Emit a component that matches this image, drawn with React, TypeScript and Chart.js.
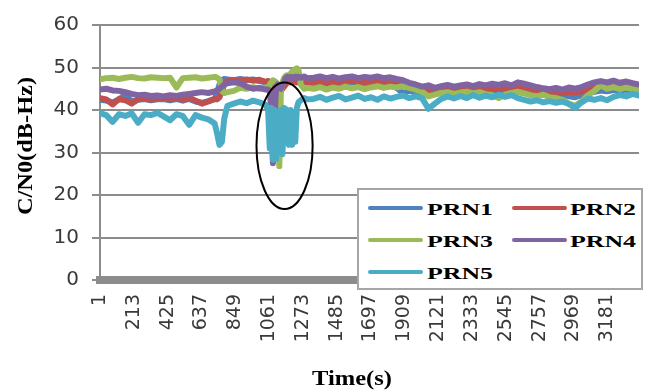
import React, { useEffect, useRef } from "react";
import { Chart, registerables } from "chart.js";

Chart.register(...registerables);

// ---- Data ----
const TIMES = [
  1, 40, 80, 120, 160, 200, 240, 280, 320, 360, 400, 440, 480, 520, 560, 600, 640, 680, 720,
  735, 750, 765, 780, 800,
  840, 880, 920, 960, 1000, 1040,
  1055, 1065, 1075, 1085, 1095, 1105, 1115, 1125, 1135, 1145, 1155, 1165, 1175, 1185, 1195, 1205, 1215, 1225, 1235, 1245, 1260, 1280, 1300,
  1340, 1380, 1420, 1460, 1500, 1540, 1580, 1620, 1660, 1700, 1740, 1780, 1820, 1860, 1900, 1940, 1980, 2020, 2060, 2100,
  2140, 2180, 2220, 2260, 2300, 2340, 2380, 2420, 2460, 2500, 2540, 2580, 2620, 2660, 2700, 2740, 2780, 2820, 2860, 2900,
  2940, 2980, 3020, 3060, 3100, 3140, 3180, 3220, 3260, 3300, 3340, 3380,
];

const PRN1 = [
  42.4, 42.2, 41.8, 42.5, 43.6, 42.0, 42.4, 42.6, 42.3, 42.5, 42.6, 42.3, 42.6, 42.2, 42.6, 42.0, 41.7, 42.1, 42.6,
  44.0, 46.0, 47.0, 47.3, 47.2,
  47.0, 47.3, 47.0, 47.2, 46.8, 46.5,
  46.8, 46.5, 46.0, 45.5, 45.0, 44.5, 45.0, 45.5, 45.8, 46.0, 46.5, 47.0, 47.3, 47.6, 47.5, 47.3, 47.0, 46.8, 46.9, 46.6, 46.5, 46.4, 46.5,
  46.2, 46.5, 46.0, 46.4, 46.1, 46.3, 46.6, 46.2, 46.4, 46.0, 46.3, 46.1, 46.0, 45.2, 44.0, 44.5, 44.2, 43.8, 43.5, 43.9,
  44.2, 44.0, 44.3, 44.1, 44.4, 44.0, 44.3, 44.1, 44.4, 44.0, 44.2, 44.5, 44.3, 44.0, 43.8, 43.6, 43.9, 43.5, 43.3, 43.6,
  43.2, 43.0, 43.5, 44.0, 44.3, 44.6, 44.4, 44.7, 44.5, 44.8, 44.4, 44.2,
];

const PRN2 = [
  42.8, 42.5, 41.3, 42.6, 42.3, 41.5, 42.5, 42.8, 42.4, 42.7, 42.9, 42.5, 42.8, 42.4, 42.9, 42.2, 41.5, 42.0, 42.6,
  42.5, 43.0, 44.5, 46.0, 46.8,
  47.0, 46.8, 47.2, 46.9, 47.1, 46.6,
  46.8, 46.5, 46.0, 45.0, 44.0, 45.0, 45.5, 45.0, 44.5, 45.0, 45.5, 46.0, 46.5, 46.8, 46.5, 46.8, 46.6, 46.9, 46.5, 46.7, 46.4, 46.8, 46.5,
  46.5, 46.8, 46.4, 46.7, 46.3, 46.6, 46.9, 46.5, 46.7, 46.4, 46.8, 46.5, 46.6, 46.2, 46.0, 45.5, 45.0, 44.6, 44.8, 44.2,
  44.5, 44.8, 44.6, 44.9, 45.0, 44.7, 45.0, 44.8, 45.1, 44.9, 45.2, 44.8, 45.3, 45.0, 44.7, 44.5, 44.3, 44.1, 44.4, 44.0,
  44.3, 44.1, 44.4, 44.8, 45.2, 45.5, 45.3, 45.6, 45.4, 45.7, 45.3, 45.1,
];

const PRN3 = [
  47.2, 47.5, 47.6, 47.3, 47.6, 47.8, 47.5, 47.4, 47.7, 47.6, 47.5, 47.6, 45.3, 47.5, 47.6, 47.7, 47.4, 47.6, 47.8,
  47.6, 47.2, 44.5, 44.0, 44.2,
  44.5, 45.2, 45.0, 45.4, 45.0, 45.3,
  45.2, 46.0, 46.5, 47.0, 46.8, 46.5, 46.0, 26.8, 44.5, 46.5, 47.5, 48.0, 48.2, 48.0, 48.5, 49.0, 49.2, 49.6, 49.8, 49.5, 46.0, 45.0, 45.2,
  45.0, 45.4, 44.8, 45.3, 45.0, 45.5, 45.1, 45.4, 44.9, 45.3, 45.6, 45.2, 45.5, 45.3, 45.6, 45.2, 44.8, 44.3, 43.2, 43.6,
  44.0, 44.2, 43.8, 44.1, 44.3, 43.9, 44.2, 43.7, 43.5, 42.8, 43.6, 44.0, 44.3, 43.9, 43.5, 43.2, 43.6, 43.0, 42.8, 42.4,
  41.5, 41.0, 42.0, 43.5, 44.5, 45.8, 45.0, 45.4, 44.9, 45.3, 45.0, 44.8,
];

const PRN4 = [
  44.8, 45.0, 44.6, 44.5, 44.2, 43.8, 43.5, 43.6, 43.3, 43.4, 43.2, 43.5, 43.3, 43.6, 43.8, 44.0, 44.2, 44.0, 44.4,
  44.6, 45.0, 45.5, 46.0, 46.3,
  46.5, 46.3, 45.5, 45.0, 45.2, 44.8,
  44.8, 44.5, 40.0, 27.5, 38.0, 45.5, 46.0, 45.5, 45.0, 45.8, 46.5, 47.5, 47.8, 47.6, 47.8, 47.4, 47.7, 47.9, 47.5, 47.8, 47.6, 47.9, 47.5,
  47.6, 47.9, 47.5, 47.8, 47.4, 47.7, 47.9, 47.5, 47.8, 47.6, 47.9, 47.5, 47.7, 47.3, 47.0, 46.4, 46.0, 45.5, 45.8, 45.2,
  45.6, 45.9, 45.5, 45.8, 46.0, 45.6, 46.1, 45.8, 46.2, 45.9, 46.3, 45.8, 46.5, 46.2, 45.8, 45.4, 45.1, 44.9, 45.2, 44.8,
  45.3, 45.0, 45.4, 46.0, 46.5, 46.8, 46.5, 46.9, 46.4, 46.7, 46.3, 46.0,
];

const PRN5 = [
  39.3, 38.8, 37.2, 39.0, 38.6, 39.2, 37.0, 39.0, 38.8, 39.3, 38.5, 37.6, 39.0, 38.6, 36.5, 38.8, 38.2, 37.8, 36.8,
  34.5, 31.8, 32.5, 38.0, 41.0,
  41.5, 42.0, 41.6, 42.2, 41.8, 41.2,
  40.0, 31.0, 40.5, 28.3, 40.0, 28.5, 39.5, 30.0, 40.0, 29.6, 40.5, 40.2, 38.0, 31.8, 40.0, 31.8, 39.0, 32.5, 40.5, 41.8, 42.3, 42.8, 42.5,
  42.6, 43.1, 42.4, 42.9, 43.3, 42.5, 42.9, 43.4, 42.6, 43.0, 42.4, 43.2, 42.7, 43.1, 43.4, 42.8, 43.2, 42.8, 40.3, 41.5,
  42.6, 43.2, 42.7, 43.3, 42.8, 43.5, 42.9, 43.4, 43.0, 43.6, 43.1, 43.5, 42.8, 42.4, 42.0, 42.3, 41.8, 42.1, 41.7, 42.0,
  41.4, 40.5, 41.8, 42.7, 42.4, 42.8, 42.3, 43.1, 43.5, 43.2, 43.8, 43.4,
];

const SERIES = [PRN1, PRN2, PRN3, PRN4, PRN5];
const SERIES_LABELS = ["PRN1", "PRN2", "PRN3", "PRN4", "PRN5"];
const SERIES_COLORS = ["#4F81BD", "#C0504D", "#9BBB59", "#8064A2", "#4BACC6"];

const X_TICKS = [1, 213, 425, 637, 849, 1061, 1273, 1485, 1697, 1909, 2121, 2333, 2545, 2757, 2969, 3181];
const X_MIN = 1;
const X_MAX = 3380;
const Y_MIN = 0;
const Y_MAX = 60;
const Y_STEP = 10;

const X_TITLE = "Time(s)";
const Y_TITLE = "C/N0(dB-Hz)";

// annotation ellipse (data units): centre time, centre value, half-width in s, half-height in dB-Hz
const ELLIPSE_T = 1158;
const ELLIPSE_V = 31.6;
const ELLIPSE_DT = 176;
const ELLIPSE_DV = 14.9;

// ---- styles ----
const W = 649;
const H = 391;
const GRID = "#8c8c8c";
const TEXT = "#3a3a3a";
const SERIF = '"Liberation Serif", "Times New Roman", serif';
const SANS = '"DejaVu Sans", sans-serif';

// legend box layout (page px)
const LEGEND_BOX = { left: 357, top: 188, width: 286, height: 102 };
const LEGEND_LINE_X = [368, 512];
const LEGEND_TEXT_X = [427, 570];
const LEGEND_BASE_Y = [215, 247, 279];

function drawStretched(
  ctx: CanvasRenderingContext2D,
  text: string,
  x: number,
  y: number,
  font: string,
  width: number,
  rotate: boolean,
  align: CanvasTextAlign
) {
  ctx.save();
  ctx.font = font;
  const w = ctx.measureText(text).width;
  ctx.translate(x, y);
  if (rotate) ctx.rotate(-Math.PI / 2);
  ctx.scale(width / w, 1);
  ctx.textAlign = align;
  ctx.textBaseline = "alphabetic";
  ctx.fillStyle = "#000";
  ctx.fillText(text, 0, 0);
  ctx.restore();
}

const overlayPlugin = {
  id: "overlayNotes",
  afterDatasetsDraw(chart: any) {
    const { ctx, scales } = chart;
    const xs = scales.x;
    const ys = scales.y;
    const cx = xs.getPixelForValue(ELLIPSE_T);
    const cy = ys.getPixelForValue(ELLIPSE_V);
    const rx = Math.abs(xs.getPixelForValue(ELLIPSE_T + ELLIPSE_DT) - cx);
    const ry = Math.abs(ys.getPixelForValue(ELLIPSE_V + ELLIPSE_DV) - cy);
    ctx.save();
    ctx.beginPath();
    ctx.ellipse(cx, cy, rx, ry, 0, 0, Math.PI * 2);
    ctx.strokeStyle = "#000";
    ctx.lineWidth = 2;
    ctx.stroke();
    ctx.restore();
  },
  afterDraw(chart: any) {
    const ctx: CanvasRenderingContext2D = chart.ctx;
    drawStretched(ctx, X_TITLE, 352, 385, `bold 20px ${SERIF}`, 80, false, "center");
    drawStretched(ctx, Y_TITLE, 31.5, 146, `bold 20px ${SERIF}`, 138, true, "center");
  },
};

function Legend() {
  const ox = LEGEND_BOX.left + 2;
  const oy = LEGEND_BOX.top + 2;
  return (
    <div
      style={{
        position: "absolute",
        zIndex: 10,
        left: LEGEND_BOX.left,
        top: LEGEND_BOX.top,
        width: LEGEND_BOX.width,
        height: LEGEND_BOX.height,
        boxSizing: "border-box",
        borderWidth: 2,
        borderStyle: "solid",
        borderColor: "#a6a6a6",
        backgroundColor: "#ffffff",
      }}
    >
      {SERIES_LABELS.map((label, i) => {
        const col = i % 2;
        const row = Math.floor(i / 2);
        const by = LEGEND_BASE_Y[row];
        return (
          <React.Fragment key={label}>
            <div
              style={{
                position: "absolute",
                left: LEGEND_LINE_X[col] - ox,
                top: by - 9 - oy,
                width: 55,
                height: 4,
                borderRadius: 2,
                backgroundColor: SERIES_COLORS[i],
              }}
            />
            <div
              style={{
                position: "absolute",
                left: LEGEND_TEXT_X[col] - ox,
                top: by - 14.2 - oy,
                fontFamily: SERIF,
                fontWeight: "bold",
                fontSize: 17,
                lineHeight: "17px",
                color: "#000",
                whiteSpace: "nowrap",
                transform: "scaleX(1.52)",
                transformOrigin: "0 0",
              }}
            >
              {label}
            </div>
          </React.Fragment>
        );
      })}
    </div>
  );
}

export default function App() {
  const canvasRef = useRef<HTMLCanvasElement | null>(null);

  useEffect(() => {
    document.body.style.margin = "0";
    const canvas = canvasRef.current;
    if (!canvas) return;
    const chart = new Chart(canvas, {
      type: "line",
      data: {
        datasets: SERIES.map((vals, i) => ({
          label: SERIES_LABELS[i],
          data: TIMES.map((t, j) => ({ x: t, y: vals[j] })),
          borderColor: SERIES_COLORS[i],
          backgroundColor: SERIES_COLORS[i],
          borderWidth: 6,
          pointRadius: 0,
          tension: 0,
          fill: false,
          order: SERIES.length - 1 - i,
          borderJoinStyle: "round" as const,
          borderCapStyle: "round" as const,
        })),
      },
      options: {
        responsive: false,
        animation: false,
        devicePixelRatio: 1,
        events: [],
        layout: { padding: { top: 15, right: 10, left: 0, bottom: 0 } },
        plugins: { legend: { display: false }, tooltip: { enabled: false } },
        scales: {
          x: {
            type: "linear",
            min: X_MIN,
            max: X_MAX,
            afterBuildTicks: (s: any) => {
              s.ticks = X_TICKS.map((v) => ({ value: v }));
            },
            afterFit: (s: any) => {
              s.height = H - 280;
            },
            grid: { display: false, drawTicks: false },
            border: { display: true, color: GRID, width: 8 },
            ticks: {
              autoSkip: false,
              minRotation: 90,
              maxRotation: 90,
              padding: 14,
              color: TEXT,
              font: { family: SANS, size: 19 },
              callback: (v: any) => String(v),
            },
          },
          y: {
            min: Y_MIN,
            max: Y_MAX,
            afterFit: (s: any) => {
              s.width = 100;
            },
            ticks: {
              stepSize: Y_STEP,
              padding: 13,
              color: TEXT,
              font: { family: SANS, size: 20 },
            },
            grid: { color: GRID, lineWidth: 2, tickLength: 8 },
            border: { display: true, color: GRID, width: 2 },
          },
        },
      },
      plugins: [overlayPlugin],
    } as any);
    return () => chart.destroy();
  }, []);

  return (
    <div style={{ position: "relative", width: W, height: H, backgroundColor: "#fff" }}>
      <canvas ref={canvasRef} width={W} height={H} style={{ display: "block", position: "relative", zIndex: 0 }} />
      <Legend />
    </div>
  );
}
